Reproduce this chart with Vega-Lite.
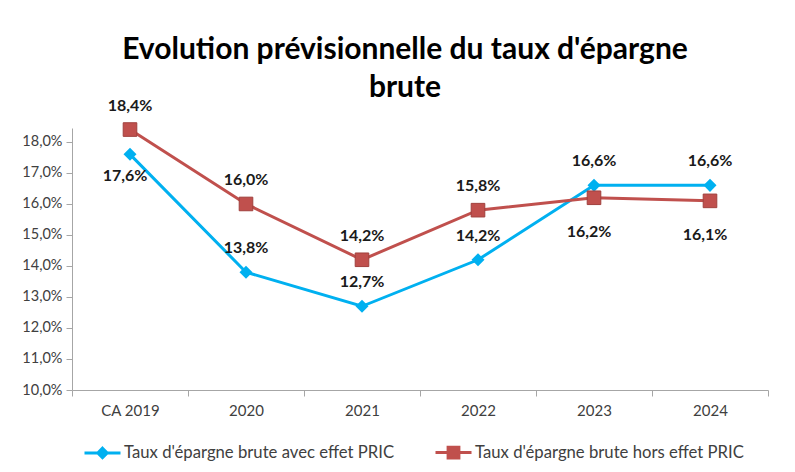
{
  "$schema": "https://vega.github.io/schema/vega-lite/v6.json",
  "autosize": "none",
  "width": 696,
  "height": 262,
  "padding": {"left": 72, "top": 128, "right": 27, "bottom": 82},
  "background": "white",
  "title": {
    "text": ["Evolution prévisionnelle du taux d'épargne", "brute"],
    "font": "Lato",
    "fontSize": 30,
    "fontWeight": "bold",
    "color": "#000000",
    "lineHeight": 38,
    "frame": "group",
    "anchor": "middle",
    "dx": -15,
    "offset": -5
  },
  "config": {
    "locale": {"number": {"decimal": ",", "thousands": " ", "grouping": [3], "currency": ["", " €"]}},
    "view": {"stroke": null},
    "font": "Lato"
  },
  "data": {
    "values": [
      {"annee": "CA 2019", "serie": "Taux d'épargne brute avec effet PRIC", "taux": 0.176},
      {"annee": "2020", "serie": "Taux d'épargne brute avec effet PRIC", "taux": 0.138},
      {"annee": "2021", "serie": "Taux d'épargne brute avec effet PRIC", "taux": 0.127},
      {"annee": "2022", "serie": "Taux d'épargne brute avec effet PRIC", "taux": 0.142},
      {"annee": "2023", "serie": "Taux d'épargne brute avec effet PRIC", "taux": 0.166},
      {"annee": "2024", "serie": "Taux d'épargne brute avec effet PRIC", "taux": 0.166},
      {"annee": "CA 2019", "serie": "Taux d'épargne brute hors effet PRIC", "taux": 0.184},
      {"annee": "2020", "serie": "Taux d'épargne brute hors effet PRIC", "taux": 0.160},
      {"annee": "2021", "serie": "Taux d'épargne brute hors effet PRIC", "taux": 0.142},
      {"annee": "2022", "serie": "Taux d'épargne brute hors effet PRIC", "taux": 0.158},
      {"annee": "2023", "serie": "Taux d'épargne brute hors effet PRIC", "taux": 0.162},
      {"annee": "2024", "serie": "Taux d'épargne brute hors effet PRIC", "taux": 0.161}
    ]
  },
  "encoding": {
    "x": {
      "field": "annee", "type": "nominal", "sort": null, "title": null,
      "scale": {"paddingInner": 0, "paddingOuter": 0},
      "axis": {"labelAngle": 0, "tickBand": "extent", "domainColor": "#a6a6a6", "tickColor": "#a6a6a6", "tickSize": 6, "labelFont": "Lato", "labelFontSize": 15, "labelColor": "#404040", "labelPadding": 7, "grid": false}
    },
    "y": {
      "field": "taux", "type": "quantitative", "title": null,
      "scale": {"domain": [0.10, 0.1845], "nice": false, "zero": false},
      "axis": {"values": [0.10, 0.11, 0.12, 0.13, 0.14, 0.15, 0.16, 0.17, 0.18], "format": ".1%", "grid": false, "domainColor": "#a6a6a6", "tickColor": "#a6a6a6", "tickSize": 6, "labelFont": "Lato", "labelFontSize": 14.5, "labelColor": "#404040", "labelPadding": 4}
    }
  },
  "layer": [
    {
      "mark": {"type": "point", "filled": true, "strokeWidth": 3, "opacity": 1, "size": 20},
      "encoding": {
        "fill": {"field": "serie", "type": "nominal", "scale": {"domain": ["Taux d'épargne brute avec effet PRIC", "Taux d'épargne brute hors effet PRIC"], "range": ["#00B0F0", "#C0504D"]},
          "legend": {"title": null, "orient": "none", "legendX": 11, "legendY": 305, "direction": "horizontal", "symbolSize": 1296, "symbolStrokeWidth": 3, "labelFont": "Lato", "labelFontSize": 16.7, "labelColor": "#404040", "labelOffset": 2, "columnPadding": 34, "labelLimit": 400}},
        "stroke": {"field": "serie", "type": "nominal", "scale": {"domain": ["Taux d'épargne brute avec effet PRIC", "Taux d'épargne brute hors effet PRIC"], "range": ["#00B0F0", "#C0504D"]},
          "legend": {"title": null, "orient": "none", "legendX": 11, "legendY": 305, "direction": "horizontal", "symbolSize": 1296, "symbolStrokeWidth": 3, "labelFont": "Lato", "labelFontSize": 16.7, "labelColor": "#404040", "labelOffset": 2, "columnPadding": 34, "labelLimit": 400}},
        "shape": {
          "field": "serie", "type": "nominal",
          "scale": {"domain": ["Taux d'épargne brute avec effet PRIC", "Taux d'épargne brute hors effet PRIC"], "range": ["M-1,0H1M0,-0.26L0.26,0L0,0.26L-0.26,0Z", "M-1,0H1M-0.3,-0.3H0.3V0.3H-0.3Z"]},
          "legend": {"title": null, "orient": "none", "legendX": 11, "legendY": 305, "direction": "horizontal", "symbolSize": 1296, "symbolStrokeWidth": 3, "labelFont": "Lato", "labelFontSize": 16.7, "labelColor": "#404040", "labelOffset": 2, "columnPadding": 34, "labelLimit": 400}
        }
      }
    },
    {
      "mark": {"type": "line", "strokeWidth": 3},
      "encoding": {"color": {"field": "serie", "type": "nominal", "legend": null, "scale": {"domain": ["Taux d'épargne brute avec effet PRIC", "Taux d'épargne brute hors effet PRIC"], "range": ["#00B0F0", "#C0504D"]}}}
    },
    {
      "transform": [{"filter": "datum.serie === 'Taux d\\'épargne brute avec effet PRIC'"}],
      "mark": {"type": "point", "shape": "diamond", "filled": true, "size": 170, "opacity": 1, "color": "#00B0F0"}
    },
    {
      "transform": [{"filter": "datum.serie === 'Taux d\\'épargne brute hors effet PRIC'"}],
      "mark": {"type": "point", "shape": "square", "filled": true, "size": 185, "opacity": 1, "color": "#C0504D", "stroke": "#A0403D", "strokeWidth": 1}
    },
    {
      "transform": [{"filter": "(datum.serie === 'Taux d\\'épargne brute avec effet PRIC' && datum.annee !== 'CA 2019') || (datum.serie === 'Taux d\\'épargne brute hors effet PRIC' && datum.annee !== '2023' && datum.annee !== '2024')"}],
      "mark": {"type": "text", "dy": -24, "font": "Lato", "fontSize": 16, "fontWeight": "bold", "color": "#1a1a1a", "baseline": "middle"},
      "encoding": {"text": {"field": "taux", "type": "quantitative", "format": ".1%"}}
    },
    {
      "transform": [{"filter": "datum.serie === 'Taux d\\'épargne brute avec effet PRIC' && datum.annee === 'CA 2019'"}],
      "mark": {"type": "text", "dy": 22, "dx": -5, "font": "Lato", "fontSize": 16, "fontWeight": "bold", "color": "#1a1a1a", "baseline": "middle"},
      "encoding": {"text": {"field": "taux", "type": "quantitative", "format": ".1%"}}
    },
    {
      "transform": [{"filter": "datum.serie === 'Taux d\\'épargne brute hors effet PRIC' && (datum.annee === '2023' || datum.annee === '2024')"}],
      "mark": {"type": "text", "dy": 34, "dx": -5, "font": "Lato", "fontSize": 16, "fontWeight": "bold", "color": "#1a1a1a", "baseline": "middle"},
      "encoding": {"text": {"field": "taux", "type": "quantitative", "format": ".1%"}}
    }
  ]
}
